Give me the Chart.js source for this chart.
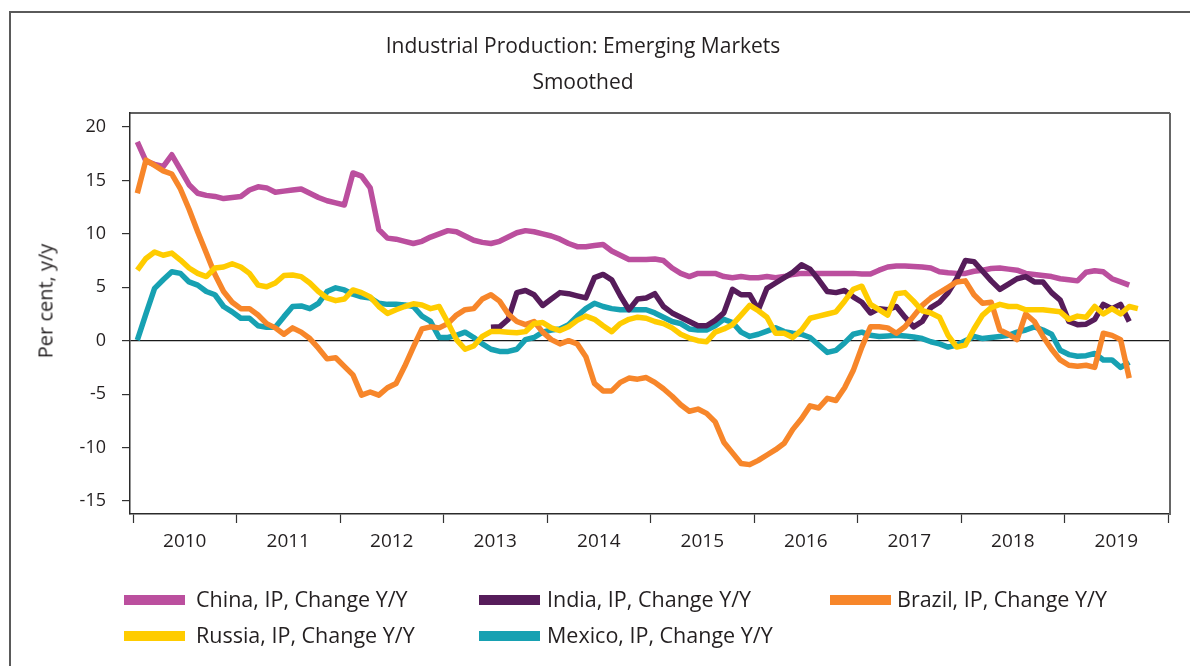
<!DOCTYPE html>
<html><head><meta charset="utf-8">
<script src="https://cdn.jsdelivr.net/npm/chart.js@4.4.1/dist/chart.umd.min.js"></script>
<style>
html,body{margin:0;padding:0;background:#fff;width:1190px;height:666px;overflow:hidden;font-family:"Open Sans",Lato,sans-serif;color:#231f20}
#frame{position:absolute;left:9px;top:11px;width:1300px;height:800px;border-left:2px solid #5a5a5a;border-top:2px solid #5a5a5a}
#c{position:absolute;left:0;top:0}
.t{position:absolute;left:0;width:1166px;text-align:center;font-size:21px;line-height:24px}
#ylab{position:absolute;left:45px;top:301px;transform:translate(-50%,-50%) rotate(-90deg);font-size:20px;white-space:nowrap}
.lg{position:absolute;font-size:21.5px;line-height:26px;white-space:nowrap}
.sw{position:absolute;width:61px;height:10px}
</style></head>
<body>
<div id="frame"></div>
<canvas id="c" width="1190" height="666"></canvas>
<div class="t" style="top:33px">Industrial Production: Emerging Markets</div>
<div class="t" style="top:69px">Smoothed</div>
<div id="ylab">Per cent, y/y</div>
<div id="legend"></div>
<script>
const START_YEAR = 2010;
const YEAR_TICKS = [2010,2011,2012,2013,2014,2015,2016,2017,2018,2019,2020];
const YEAR_LABELS = ["2010","2011","2012","2013","2014","2015","2016","2017","2018","2019",""];
const Y_TICKS = [20,15,10,5,0,-5,-10,-15];
const SERIES_NAMES = ["China, IP, Change Y/Y","India, IP, Change Y/Y","Brazil, IP, Change Y/Y","Russia, IP, Change Y/Y","Mexico, IP, Change Y/Y"];
const COLORS = ["#bb4f9e","#561c5a","#f7862a","#ffcc00","#17a1b2"];

// monthly values from Jan 2010
const china = [
18.6,16.8,16.5,16.3,17.4,16.0,14.6,13.8,13.6,13.5,13.3,13.4,
13.5,14.1,14.4,14.3,13.9,14.0,14.1,14.2,13.8,13.4,13.1,12.9,
12.7,15.7,15.4,14.3,10.4,9.6,9.5,9.3,9.1,9.3,9.7,10.0,
10.3,10.2,9.8,9.4,9.2,9.1,9.3,9.7,10.1,10.3,10.2,10.0,
9.8,9.5,9.1,8.8,8.8,8.9,9.0,8.4,8.0,7.6,7.6,7.6,
7.65,7.5,6.8,6.3,6.0,6.3,6.3,6.3,6.0,5.9,6.0,5.9,
5.9,6.0,5.9,6.0,6.2,6.3,6.3,6.3,6.3,6.3,6.3,6.3,
6.25,6.25,6.6,6.9,7.0,7.0,6.95,6.9,6.8,6.45,6.35,6.3,
6.3,6.5,6.6,6.75,6.8,6.7,6.6,6.3,6.2,6.1,6.0,5.8,
5.7,5.6,6.4,6.55,6.45,5.8,5.5,5.2
];
const india = [
null,null,null,null,null,null,null,null,null,null,null,null,
null,null,null,null,null,null,null,null,null,null,null,null,
null,null,null,null,null,null,null,null,null,null,null,null,
null,null,null,null,null,1.25,1.3,2.0,4.5,4.7,4.3,3.3,
3.9,4.5,4.4,4.2,4.0,5.9,6.2,5.7,4.2,2.9,3.9,4.0,
4.4,3.2,2.6,2.2,1.8,1.4,1.4,1.9,2.6,4.8,4.3,4.3,
2.9,4.9,5.4,5.9,6.4,7.1,6.7,5.7,4.6,4.5,4.7,4.1,
3.6,2.6,3.0,2.9,3.2,2.2,1.3,1.8,3.1,3.6,4.5,5.8,
7.5,7.4,6.5,5.6,4.8,5.3,5.8,6.0,5.5,5.5,4.5,3.8,
1.8,1.5,1.55,2.0,3.4,3.0,3.4,1.8
];
const brazil = [
13.8,16.9,16.4,15.9,15.6,14.2,12.3,10.2,8.2,6.2,4.6,3.6,
3.0,3.0,2.4,1.6,1.2,0.6,1.2,0.8,0.2,-0.7,-1.7,-1.6,
-2.4,-3.2,-5.1,-4.8,-5.1,-4.4,-4.0,-2.4,-0.6,1.1,1.3,1.2,
1.6,2.4,2.9,3.0,3.9,4.3,3.7,2.5,1.8,1.5,1.8,0.8,
0.1,-0.3,0.0,-0.3,-1.5,-4.0,-4.7,-4.7,-3.9,-3.5,-3.6,-3.45,
-3.9,-4.5,-5.2,-6.0,-6.6,-6.4,-6.8,-7.6,-9.5,-10.5,-11.5,-11.6,
-11.2,-10.7,-10.2,-9.6,-8.3,-7.3,-6.1,-6.3,-5.4,-5.6,-4.4,-2.8,
-0.6,1.3,1.3,1.2,0.7,1.3,2.3,3.3,4.0,4.5,5.0,5.5,
5.6,4.3,3.5,3.6,1.0,0.6,0.1,2.5,1.8,0.4,-0.8,-1.8,
-2.3,-2.4,-2.3,-2.5,0.7,0.5,0.1,-3.5
];
const russia = [
6.6,7.7,8.3,8.0,8.2,7.55,6.8,6.3,6.0,6.8,6.9,7.2,
6.9,6.3,5.2,5.05,5.4,6.1,6.15,6.0,5.4,4.6,4.0,3.75,
3.9,4.75,4.5,4.1,3.2,2.55,2.9,3.2,3.45,3.35,3.0,3.2,
1.7,0.1,-0.8,-0.5,0.4,0.85,0.85,0.8,0.75,0.85,1.6,1.7,
1.2,0.95,1.3,1.9,2.3,2.0,1.4,0.85,1.6,2.0,2.2,2.1,
1.8,1.6,1.2,0.6,0.25,0.0,-0.1,0.8,1.1,1.5,2.4,3.3,
2.8,2.2,0.7,0.7,0.3,1.0,2.1,2.3,2.5,2.7,3.7,4.8,
5.1,3.4,2.9,2.4,4.4,4.5,3.7,2.8,2.6,2.2,0.5,-0.6,
-0.4,1.1,2.4,3.1,3.4,3.2,3.2,2.9,2.9,2.9,2.8,2.7,
2.0,2.3,2.2,3.2,2.5,3.0,2.5,3.2,3.0
];
const mexico = [
0.05,2.5,4.9,5.7,6.45,6.3,5.5,5.2,4.6,4.3,3.2,2.7,
2.1,2.1,1.4,1.25,1.25,2.25,3.2,3.25,3.0,3.5,4.6,4.95,
4.75,4.35,4.1,4.0,3.5,3.4,3.4,3.35,3.2,2.3,1.8,0.3,
0.3,0.5,0.8,0.3,-0.3,-0.8,-1.0,-1.0,-0.8,0.1,0.3,0.8,
1.0,1.1,1.5,2.3,3.0,3.5,3.2,3.0,2.9,2.9,2.9,2.9,
2.6,2.2,1.8,1.6,1.1,1.0,1.0,1.4,2.0,1.7,0.8,0.4,
0.6,0.9,1.2,0.85,0.7,0.6,0.3,-0.4,-1.1,-0.9,-0.2,0.6,
0.8,0.5,0.4,0.45,0.5,0.45,0.35,0.2,-0.1,-0.3,-0.6,-0.4,
0.0,0.4,0.2,0.3,0.4,0.5,0.8,1.0,1.3,1.0,0.6,-0.9,
-1.3,-1.45,-1.4,-1.2,-1.8,-1.8,-2.5,-2.0
];

const SERIES = [china, india, brazil, russia, mexico];
const DRAW_ORDER = [3, 2, 1, 0, 4]; // lower = drawn on top
const FONT = '"Open Sans", Lato, sans-serif';

function toPoints(arr){
  return arr.map((v,i)=>({x: START_YEAR + (i+0.5)/12, y: v}));
}

const boxPlugin = {
  id:'box',
  afterDraw(chart){
    const {ctx, chartArea:a} = chart;
    ctx.save();
    ctx.strokeStyle = '#2b2b2b';
    ctx.lineWidth = 1.5;
    ctx.beginPath();
    ctx.moveTo(a.left, a.top); ctx.lineTo(a.right, a.top);
    ctx.stroke();
    ctx.strokeStyle = '#666';
    ctx.lineWidth = 2;
    ctx.beginPath();
    ctx.moveTo(a.right, a.top); ctx.lineTo(a.right, a.bottom+1);
    ctx.stroke();
    ctx.restore();
  }
};

new Chart(document.getElementById('c'), {
  type:'line',
  data:{
    datasets: SERIES.map((s,k)=>({
      label: SERIES_NAMES[k],
      data: toPoints(s),
      borderColor: COLORS[k],
      backgroundColor: COLORS[k],
      borderWidth: 5.5,
      pointRadius: 0,
      tension: 0,
      borderJoinStyle:'round',
      spanGaps:false,
      order: DRAW_ORDER[k]
    }))
  },
  options:{
    responsive:false,
    animation:false,
    devicePixelRatio:1,
    layout:{padding:{top:113,right:20,left:0,bottom:0}},
    plugins:{legend:{display:false},tooltip:{enabled:false},title:{display:false}},
    scales:{
      x:{
        type:'linear', min:2009.971, max:2020.019,
        afterBuildTicks(s){ s.ticks = YEAR_TICKS.map(v=>({value:v})); },
        afterFit(s){ s.height = 152; s.paddingLeft = 0; s.paddingRight = 0; },
        ticks:{
          autoSkip:false, maxRotation:0, minRotation:0,
          labelOffset: 51.75, padding: 7,
          color:'#231f20', font:{family:FONT, size:19},
          callback(v){ const i = YEAR_TICKS.indexOf(v); return i>=0 ? YEAR_LABELS[i] : ''; }
        },
        grid:{display:true, drawOnChartArea:false, drawTicks:true, tickLength:9, tickColor:'#333', tickWidth:1.2},
        border:{display:true, color:'#2b2b2b', width:1.5}
      },
      y:{
        type:'linear', min:-16.22, max:21.31,
        afterBuildTicks(s){ s.ticks = Y_TICKS.map(v=>({value:v})); },
        afterFit(s){ s.width = 130; s.paddingTop = 0; s.paddingBottom = 0; },
        ticks:{
          padding: 16, color:'#231f20', font:{family:FONT, size:18},
          callback(v){ return String(v); }
        },
        grid:{
          display:true, drawOnChartArea:true, drawTicks:true, tickLength:8,
          tickColor:'#333', tickWidth:1.2,
          color(ctx){ return ctx.tick && ctx.tick.value===0 ? '#1a1a1a' : 'rgba(0,0,0,0)'; },
          lineWidth:1.2
        },
        border:{display:true, color:'#2b2b2b', width:1.5}
      }
    }
  },
  plugins:[boxPlugin]
});

// legend
const LEGEND_SWATCH = [[124,600],[479,600],[830,600],[124,636],[479,636]];
const LEGEND_TEXT_X = [196,547,897,196,547];
const lg = document.getElementById('legend');
SERIES_NAMES.forEach((n,k)=>{
  const [x,y] = LEGEND_SWATCH[k];
  const sw = document.createElement('div');
  sw.className='sw'; sw.style.left=x+'px'; sw.style.top=(y-5)+'px'; sw.style.background=COLORS[k];
  const tx = document.createElement('div');
  tx.className='lg'; tx.style.left=LEGEND_TEXT_X[k]+'px'; tx.style.top=(y-14)+'px'; tx.textContent=n;
  lg.appendChild(sw); lg.appendChild(tx);
});
</script>
</body></html>
